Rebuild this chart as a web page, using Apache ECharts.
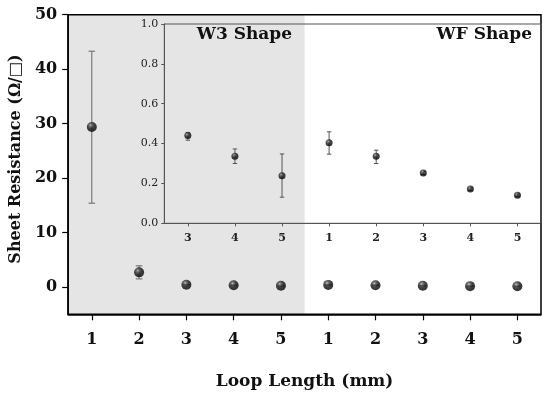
<!DOCTYPE html>
<html>
<head>
<meta charset="utf-8">
<script src="https://cdn.jsdelivr.net/npm/echarts@6/dist/echarts.min.js"></script>
<style>html,body{margin:0;padding:0;background:#fff}#c{width:550px;height:398px}</style>
</head>
<body>
<div id="c"></div>
<script>
// ---- data ----
var mainCategories = ['1','2','3','4','5','1','2','3','4','5'];
var mainValues = [29.4, 2.7, 0.44, 0.34, 0.24, 0.40, 0.34, 0.25, 0.17, 0.14];
var mainErrLow = [15.4, 1.5, 0.42, 0.30, 0.13, 0.35, 0.30, 0.24, 0.16, 0.13];
var mainErrHigh = [43.3, 3.9, 0.46, 0.37, 0.35, 0.46, 0.37, 0.26, 0.18, 0.15];

var insetCategories = ['3','4','5','1','2','3','4','5'];
var insetValues = [0.44, 0.337, 0.238, 0.404, 0.337, 0.253, 0.172, 0.141];
var insetErrLow = [0.417, 0.30, 0.131, 0.347, 0.30, 0.245, 0.165, 0.134];
var insetErrHigh = [0.456, 0.373, 0.348, 0.459, 0.367, 0.261, 0.179, 0.148];

var mainYTicks = [0, 10, 20, 30, 40, 50];
var insetYTicks = [0.0, 0.2, 0.4, 0.6, 0.8, 1.0];
var shapeLabels = ['W3 Shape', 'WF Shape'];

var FONT = 'DejaVu Serif';

function ball() {
  return {
    type: 'radial', x: 0.38, y: 0.32, r: 0.7,
    colorStops: [
      {offset: 0, color: '#bdbdbd'},
      {offset: 0.18, color: '#5a5a5a'},
      {offset: 0.5, color: '#151515'},
      {offset: 1, color: '#000'}
    ]
  };
}

function errSeries(xi, yi, lows, highs, cap, color) {
  var d = lows.map(function (l, i) { return [i, l, highs[i]]; });
  return {
    type: 'custom', xAxisIndex: xi, yAxisIndex: yi, z: 3,
    data: d,
    renderItem: function (params, api) {
      var x = api.value(0);
      var lo = api.coord([x, api.value(1)]);
      var hi = api.coord([x, api.value(2)]);
      var st = {stroke: color, lineWidth: 1};
      return {
        type: 'group', children: [
          {type: 'line', shape: {x1: lo[0], y1: lo[1], x2: hi[0], y2: hi[1]}, style: st},
          {type: 'line', shape: {x1: lo[0] - cap, y1: lo[1], x2: lo[0] + cap, y2: lo[1]}, style: st},
          {type: 'line', shape: {x1: hi[0] - cap, y1: hi[1], x2: hi[0] + cap, y2: hi[1]}, style: st}
        ]
      };
    }
  };
}

var chart = echarts.init(document.getElementById('c'), null, {renderer: 'canvas'});
chart.setOption({
  backgroundColor: '#fff',
  animation: false,
  grid: [
    {left: 64.7, top: 14.7, right: 9, bottom: 83.7, show: true, borderColor: '#000', borderWidth: 1.5, backgroundColor: 'transparent', z: 1},
    {left: 164.3, top: 24, right: 9, bottom: 174.7, show: true, borderColor: '#555', borderWidth: 1, backgroundColor: 'transparent', z: 5}
  ],
  xAxis: [
    {
      type: 'category', gridIndex: 0, data: mainCategories, boundaryGap: true,
      name: 'Loop Length (mm)', nameLocation: 'middle', nameGap: 59,
      nameTextStyle: {fontFamily: FONT, fontWeight: 'bold', fontSize: 17, color: '#111'},
      axisLine: {show: true, onZero: false, lineStyle: {color: '#000', width: 1.5}},
      axisTick: {show: true, alignWithLabel: true, length: 6, lineStyle: {color: '#000', width: 1.2}},
      axisLabel: {fontFamily: FONT, fontWeight: 'bold', fontSize: 16, color: '#111', margin: 18, interval: 0},
      splitLine: {show: false}
    },
    {
      type: 'category', gridIndex: 1, data: insetCategories, boundaryGap: true,
      axisLine: {show: true, onZero: false, lineStyle: {color: '#555', width: 1}},
      axisTick: {show: true, alignWithLabel: true, length: 3, lineStyle: {color: '#555'}},
      axisLabel: {fontFamily: FONT, fontWeight: 'bold', fontSize: 11, color: '#222', margin: 9, interval: 0},
      splitLine: {show: false}
    }
  ],
  yAxis: [
    {
      type: 'value', gridIndex: 0, min: -5, max: 50,
      name: 'Sheet Resistance (Ω/□)', nameLocation: 'middle', nameGap: 37, nameRotate: 90,
      nameTextStyle: {fontFamily: FONT, fontWeight: 'bold', fontSize: 16, color: '#111', padding: [0, 0, 0, 11]},
      axisLine: {show: true, lineStyle: {color: '#000', width: 1.5}},
      axisTick: {show: true, length: 6, customValues: mainYTicks, lineStyle: {color: '#000', width: 1.2}},
      axisLabel: {fontFamily: FONT, fontWeight: 'bold', fontSize: 16, color: '#111', margin: 11,
        customValues: mainYTicks},
      splitLine: {show: false}
    },
    {
      type: 'value', gridIndex: 1, min: 0, max: 1, interval: 0.2,
      axisLine: {show: true, lineStyle: {color: '#555', width: 1}},
      axisTick: {show: true, length: 3, customValues: insetYTicks, lineStyle: {color: '#555'}},
      axisLabel: {fontFamily: FONT, fontSize: 11, color: '#222', margin: 6, customValues: insetYTicks,
        formatter: function (v) { return v.toFixed(1); }},
      splitLine: {show: false}
    }
  ],
  graphic: [
    {type: 'text', right: 258, top: 26, z: 10, style: {text: shapeLabels[0], font: 'bold 17px "DejaVu Serif"', fill: '#111'}},
    {type: 'text', right: 18, top: 26, z: 10, style: {text: shapeLabels[1], font: 'bold 17px "DejaVu Serif"', fill: '#111'}}
  ],
  series: [
    {
      type: 'custom', xAxisIndex: 0, yAxisIndex: 0, z: 0, silent: true,
      data: [[0]],
      renderItem: function (params, api) {
        var cs = params.coordSys;
        var bw = api.size([1, 0])[0];
        var x0 = cs.x;
        var x1 = api.coord([4, 0])[0] + bw / 2;
        return {type: 'rect', shape: {x: x0, y: cs.y, width: x1 - x0, height: cs.height}, style: {fill: '#e5e5e5'}};
      }
    },
    errSeries(0, 0, mainErrLow, mainErrHigh, 3.3, '#666'),
    {
      type: 'scatter', xAxisIndex: 0, yAxisIndex: 0, z: 4, symbolSize: 10,
      data: mainValues.map(function (v, i) { return [i, v]; }),
      itemStyle: {color: ball()}
    },
    errSeries(1, 1, insetErrLow, insetErrHigh, 2.2, '#555'),
    {
      type: 'scatter', xAxisIndex: 1, yAxisIndex: 1, z: 6, symbolSize: 7,
      data: insetValues.map(function (v, i) { return [i, v]; }),
      itemStyle: {color: ball()}
    }
  ]
});
</script>
</body>
</html>
